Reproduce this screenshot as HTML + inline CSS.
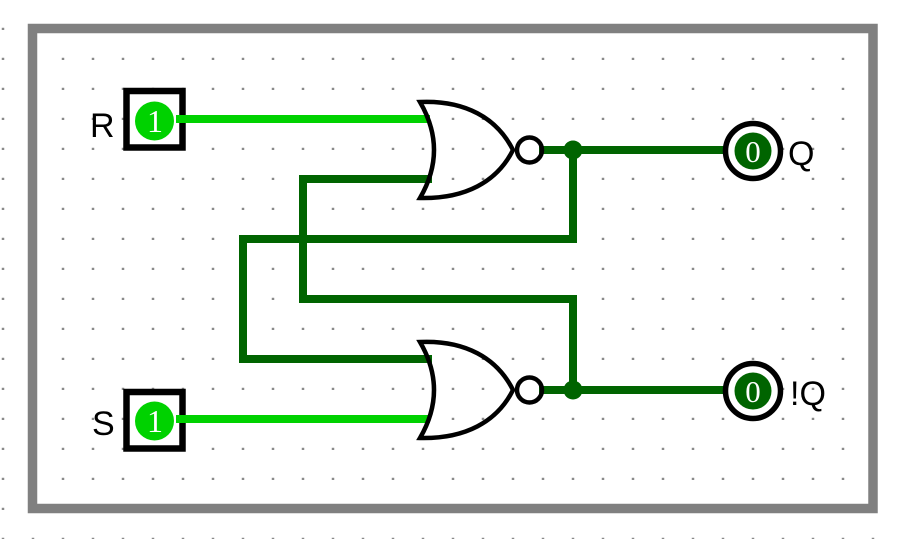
<!DOCTYPE html>
<html><head><meta charset="utf-8"><style>
html,body{margin:0;padding:0;background:#fff;width:901px;height:539px;overflow:hidden}
svg{display:block}
</style></head><body>
<svg width="901" height="539" viewBox="0 0 901 539" xmlns="http://www.w3.org/2000/svg">
<defs>
<pattern id="g" x="0" y="0" width="30" height="30" patternUnits="userSpaceOnUse">
<rect x="1.75" y="27.75" width="2.5" height="2.5" fill="#8a8a8a"/>
</pattern>
</defs>
<rect width="901" height="539" fill="#fff"/>
<rect width="901" height="539" fill="url(#g)"/>
<!-- frame -->
<rect x="32.5" y="28.5" width="840.5" height="480" fill="none" stroke="#808080" stroke-width="9.5"/>

<!-- dark green wires -->
<g stroke="#006400" stroke-width="8" fill="none" stroke-linejoin="miter" stroke-linecap="square">
<polyline points="543,150 735,150"/>
<polyline points="543,390 735,390"/>
<polyline points="573,150 573,239 243,239 243,359 428,359"/>
<polyline points="573,390 573,299 303,299 303,179 428,179"/>
</g>
<circle cx="573" cy="150" r="9.5" fill="#006400"/>
<circle cx="573" cy="390" r="9.5" fill="#006400"/>

<!-- light green wires -->
<g stroke="#00d200" stroke-width="8" fill="none">
<line x1="178" y1="119" x2="430" y2="119"/>
<line x1="178" y1="419" x2="430" y2="419"/>
</g>

<!-- NOR gates -->
<g fill="none" stroke="#000" stroke-width="4.5" stroke-linejoin="miter">
<path d="M420,102 C465,100 497,118 513,150 C497,182 465,199 420,198 Q448,150 420,102 Z"/>
<circle cx="529.5" cy="150" r="12.5"/>
<path d="M420,342 C465,340 497,358 513,390 C497,422 465,439 420,438 Q448,390 420,342 Z"/>
<circle cx="529.5" cy="390" r="12.5"/>
</g>

<!-- inputs -->
<rect x="126.5" y="91" width="56" height="56.5" fill="#fff" stroke="#000" stroke-width="6.5"/>
<circle cx="154.5" cy="121" r="19.5" fill="#00d200"/>
<text x="155" y="132" font-family="Liberation Serif, serif" font-size="32" fill="#fff" text-anchor="middle">1</text>
<rect x="126.5" y="392" width="56" height="56.5" fill="#fff" stroke="#000" stroke-width="6.5"/>
<circle cx="154.5" cy="421" r="19.5" fill="#00d200"/>
<text x="155" y="432" font-family="Liberation Serif, serif" font-size="32" fill="#fff" text-anchor="middle">1</text>
<g stroke="#00d200" stroke-width="8"><line x1="176" y1="119" x2="190" y2="119"/><line x1="176" y1="419" x2="190" y2="419"/></g>

<!-- outputs -->
<circle cx="753" cy="151" r="27.5" fill="#fff" stroke="#000" stroke-width="5.5"/>
<circle cx="753" cy="151" r="18.5" fill="#006400"/>
<text x="753" y="162" font-family="Liberation Serif, serif" font-size="31" fill="#fff" text-anchor="middle">0</text>
<circle cx="753" cy="391" r="27.5" fill="#fff" stroke="#000" stroke-width="5.5"/>
<circle cx="753" cy="391" r="18.5" fill="#006400"/>
<text x="753" y="402" font-family="Liberation Serif, serif" font-size="31" fill="#fff" text-anchor="middle">0</text>

<!-- labels -->
<g font-family="Liberation Sans, sans-serif" font-size="34" fill="#000">
<text x="90" y="137">R</text>
<text x="92" y="435">S</text>
<text x="788" y="165">Q</text>
<text x="790" y="405">!Q</text>
</g>
</svg>
</body></html>
